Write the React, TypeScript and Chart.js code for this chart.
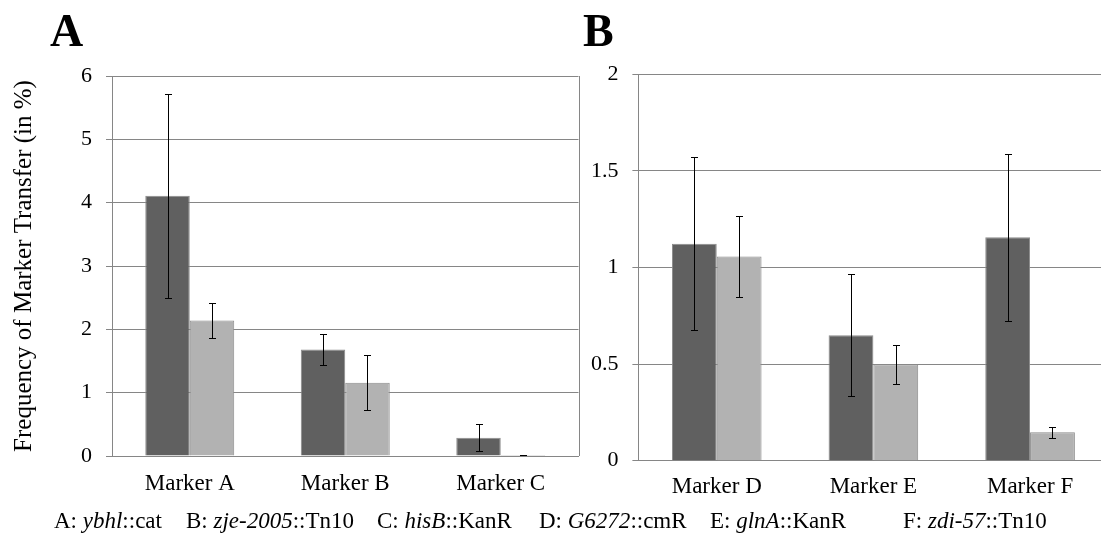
import React, { useEffect, useRef } from "react";
import { Chart, registerables } from "chart.js";

Chart.register(...registerables);

// ---- data ----
const categoriesA = ["Marker A", "Marker B", "Marker C"];
const darkA = [4.11, 1.68, 0.29];
const darkErrA = [1.61, 0.245, 0.21];
const lightA = [2.14, 1.157, 0.016];
const lightErrA = [0.28, 0.43, 0.005];
const yTicksA = [0, 1, 2, 3, 4, 5, 6];

const categoriesB = ["Marker D", "Marker E", "Marker F"];
const darkB = [1.123, 0.649, 1.156];
const darkErrB = [0.448, 0.315, 0.434];
const lightB = [1.057, 0.499, 0.147];
const lightErrB = [0.21, 0.1, 0.03];
const yTicksB = [0, 0.5, 1, 1.5, 2];

const yTitleA = "Frequency of Marker Transfer (in %)";
const panelLabels = ["A", "B"];
const captionParts: [string, string, string][] = [
  ["A: ", "ybhl", "::cat"],
  ["B: ", "zje-2005", "::Tn10"],
  ["C: ", "hisB", "::KanR"],
  ["D: ", "G6272", "::cmR"],
  ["E: ", "glnA", "::KanR"],
  ["F: ", "zdi-57", "::Tn10"],
];
const captionLeft = [54, 186, 377, 539, 710, 903];

const FONT = '"Liberation Serif", "Times New Roman", serif';
const GRID = "#868686";
const DARK = "#606060";
const LIGHT = "#b2b2b2";
const BAR_BORDER = "#8a8a8a";

Chart.defaults.font.family = FONT;
Chart.defaults.color = "#000";

const errorBarPlugin = {
  id: "errorBars",
  afterDatasetsDraw(chart: any) {
    const ctx = chart.ctx;
    const yScale = chart.scales.y;
    ctx.save();
    ctx.strokeStyle = "#000";
    ctx.lineWidth = 1;
    chart.data.datasets.forEach((ds: any, i: number) => {
      const meta = chart.getDatasetMeta(i);
      meta.data.forEach((bar: any, j: number) => {
        const v = ds.data[j];
        const e = ds.errors[j];
        const x = Math.round(bar.x) + 0.5;
        const yt = Math.round(yScale.getPixelForValue(v + e)) + 0.5;
        const yb = Math.round(yScale.getPixelForValue(v - e)) + 0.5;
        ctx.beginPath();
        ctx.moveTo(x, yt);
        ctx.lineTo(x, yb);
        ctx.moveTo(x - 3.5, yt);
        ctx.lineTo(x + 3.5, yt);
        ctx.moveTo(x - 3.5, yb);
        ctx.lineTo(x + 3.5, yb);
        ctx.stroke();
      });
    });
    ctx.restore();
  },
};

const rightBorderPlugin = {
  id: "rightBorder",
  afterDraw(chart: any) {
    const { ctx, chartArea } = chart;
    ctx.save();
    ctx.strokeStyle = GRID;
    ctx.lineWidth = 1;
    const x = Math.round(chartArea.right) + 0.5;
    ctx.beginPath();
    ctx.moveTo(x, chartArea.top);
    ctx.lineTo(x, chartArea.bottom);
    ctx.stroke();
    ctx.restore();
  },
};

type PanelProps = {
  categories: string[];
  dark: number[];
  darkErr: number[];
  light: number[];
  lightErr: number[];
  yTicks: number[];
  yTitle?: string;
  left: number;
  width: number;
  pad: { top: number; right: number };
  yWidth: number;
  xHeight: number;
  xPad: number;
};

function Panel(p: PanelProps) {
  const ref = useRef<HTMLCanvasElement>(null);
  useEffect(() => {
    if (!ref.current) return;
    const yMax = p.yTicks[p.yTicks.length - 1];
    const chart = new Chart(ref.current, {
      type: "bar",
      data: {
        labels: p.categories,
        datasets: [
          {
            data: p.dark,
            errors: p.darkErr,
            backgroundColor: DARK,
            borderColor: BAR_BORDER,
            borderWidth: 1,
            barPercentage: 1,
            categoryPercentage: 0.572,
          } as any,
          {
            data: p.light,
            errors: p.lightErr,
            backgroundColor: LIGHT,
            borderColor: BAR_BORDER,
            borderWidth: 1,
            barPercentage: 1,
            categoryPercentage: 0.572,
          } as any,
        ],
      },
      options: {
        animation: false,
        responsive: false,
        layout: { padding: { top: p.pad.top, right: p.pad.right, left: 0, bottom: 0 } },
        plugins: { legend: { display: false }, tooltip: { enabled: false } },
        scales: {
          x: {
            grid: { display: false, drawTicks: false },
            border: { display: true, color: GRID, width: 1 },
            ticks: { color: "#000", font: { family: FONT, size: 23 }, padding: p.xPad, maxRotation: 0 },
            afterFit: (s: any) => {
              s.height = p.xHeight;
            },
          },
          y: {
            min: 0,
            max: yMax,
            afterBuildTicks: (s: any) => {
              s.ticks = p.yTicks.map((v) => ({ value: v }));
            },
            grid: { color: GRID, lineWidth: 1, drawTicks: true, tickLength: 6 },
            border: { display: true, color: GRID, width: 1 },
            ticks: {
              color: "#000",
              font: { family: FONT, size: 22 },
              padding: 14,
              callback: (v: any) => String(v),
            },
            title: p.yTitle
              ? {
                  display: true,
                  text: p.yTitle,
                  color: "#000",
                  font: { family: FONT, size: 25 },
                  padding: { top: 9, bottom: 0 },
                }
              : { display: false },
            afterFit: (s: any) => {
              s.width = p.yWidth;
            },
          },
        },
      },
      plugins: [errorBarPlugin, rightBorderPlugin],
    });
    let alive = true;
    const fonts: any = (document as any).fonts;
    if (fonts && fonts.load) {
      Promise.all([
        fonts.load('22px "Liberation Serif"'),
        fonts.load('23px "Liberation Serif"'),
      ]).then(() => {
        if (alive) chart.update();
      });
    }
    return () => {
      alive = false;
      chart.destroy();
    };
  }, []);
  return (
    <canvas
      ref={ref}
      width={p.width}
      height={548}
      style={{ position: "absolute", left: p.left, top: 0, width: p.width, height: 548 }}
    />
  );
}

export default function App() {
  return (
    <div
      style={{
        position: "absolute",
        left: 0,
        top: 0,
        width: 1101,
        height: 548,
        overflow: "hidden",
        background: "#fff",
        fontFamily: FONT,
      }}
    >
      <Panel
        categories={categoriesA}
        dark={darkA}
        darkErr={darkErrA}
        light={lightA}
        lightErr={lightErrA}
        yTicks={yTicksA}
        yTitle={yTitleA}
        left={0}
        width={600}
        pad={{ top: 76, right: 21.5 }}
        yWidth={112}
        xHeight={92}
        xPad={14}
      />
      <Panel
        categories={categoriesB}
        dark={darkB}
        darkErr={darkErrB}
        light={lightB}
        lightErr={lightErrB}
        yTicks={yTicksB}
        left={560}
        width={560}
        pad={{ top: 74.3, right: 11.6 }}
        yWidth={78.4}
        xHeight={87.3}
        xPad={12}
      />
      <div style={{ position: "absolute", left: 50, top: 8, fontSize: 46, lineHeight: "46px", fontWeight: "bold" }}>
        {panelLabels[0]}
      </div>
      <div style={{ position: "absolute", left: 583, top: 8, fontSize: 46, lineHeight: "46px", fontWeight: "bold" }}>
        {panelLabels[1]}
      </div>
      {captionParts.map((c, i) => (
        <div
          key={i}
          style={{
            position: "absolute",
            left: captionLeft[i],
            top: 508,
            fontSize: 23,
            lineHeight: "26px",
            whiteSpace: "nowrap",
          }}
        >
          {c[0]}
          <i>{c[1]}</i>
          {c[2]}
        </div>
      ))}
    </div>
  );
}
